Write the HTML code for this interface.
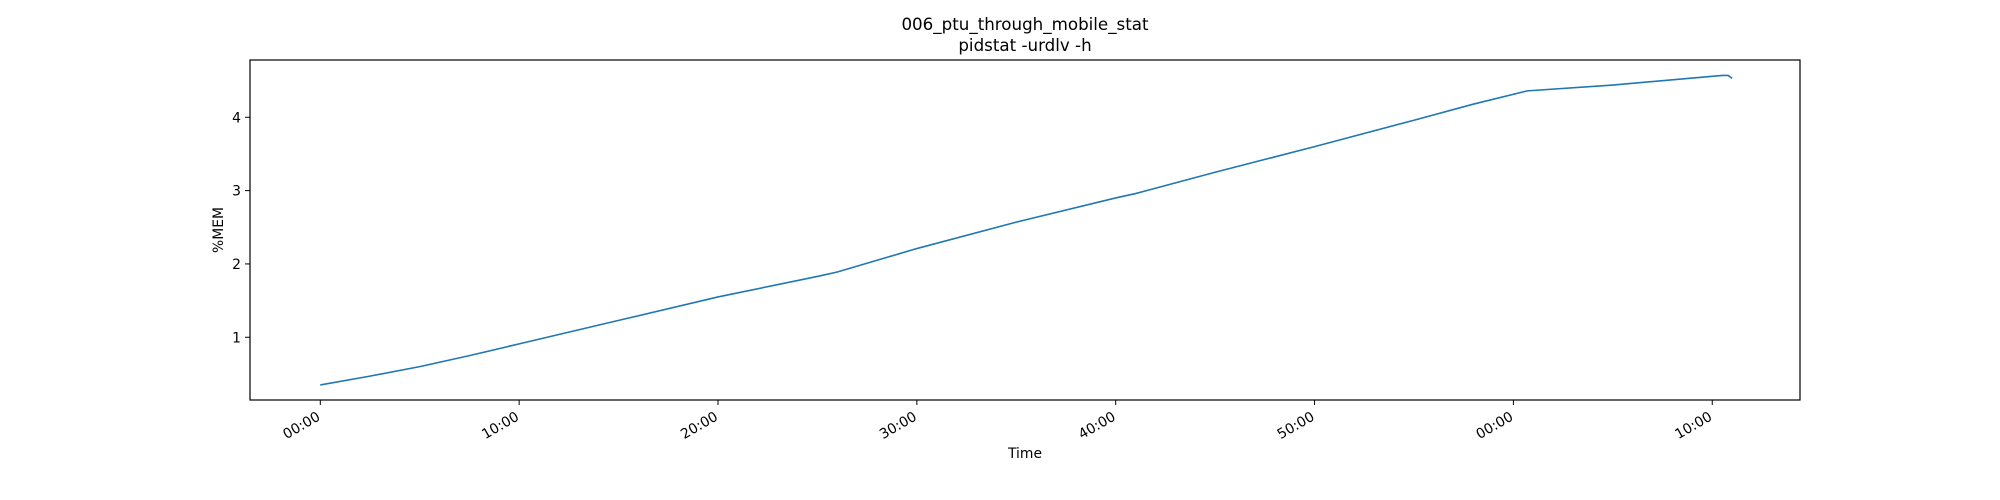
<!DOCTYPE html>
<html><head><meta charset="utf-8"><style>
body{margin:0;background:#fff}
svg{display:block;font-family:"DejaVu Sans","Liberation Sans",sans-serif}
</style></head><body>
<svg id="chart" width="2000" height="500">
<text x="1025" y="30" font-size="16.7" text-anchor="middle">006_ptu_through_mobile_stat</text>
<text x="1025" y="51" font-size="16.7" text-anchor="middle">pidstat -urdlv -h</text>
<g id="plot"></g>
<rect x="250" y="60" width="1550" height="340" fill="none" stroke="#000" stroke-width="1.2"/>
<text x="1025" y="458" font-size="13.9" text-anchor="middle">Time</text>
<text transform="translate(223,230) rotate(-90)" font-size="13.9" text-anchor="middle">%MEM</text>
</svg>
<script>
const xMinutes=[0,2.5,5,7.5,10,15,20,25,26,30,35,40,41,45,50,55,58,60.7,65,70.5,70.8,71];
const memValues=[0.35,0.47,0.60,0.75,0.91,1.23,1.55,1.83,1.89,2.21,2.57,2.90,2.96,3.25,3.60,3.96,4.18,4.36,4.44,4.57,4.57,4.53];
const yTicks=[1,2,3,4];
const xTickMinutes=[0,10,20,30,40,50,60,70];
const xTickLabels=["00:00","10:00","20:00","30:00","40:00","50:00","00:00","10:00"];
const NS="http://www.w3.org/2000/svg";
const xs=m=>320.3+m*19.885;
const ys=v=>410.6-v*73.33;
const g=document.getElementById('plot');
function mk(t,a){const e=document.createElementNS(NS,t);for(const k in a)e.setAttribute(k,a[k]);g.appendChild(e);return e;}
yTicks.forEach(v=>{
 const l=mk('line',{x1:245,x2:250,y1:ys(v),y2:ys(v),stroke:'#000'});
 
 
 const t=mk('text',{x:241,y:ys(v)+5,'font-size':13.9,'text-anchor':'end'});
 t.textContent=v;
 
 
});
xTickMinutes.forEach((m,i)=>{
 const x=xs(m);
 const l=mk('line',{x1:x,x2:x,y1:400,y2:405,stroke:'#000'});
 
 
 const t=mk('text',{transform:`translate(${x-4},${411}) rotate(-30)`,'font-size':13.9,'text-anchor':'end','dominant-baseline':'hanging'});
 t.textContent=xTickLabels[i];
 
 
});
const p=mk('polyline',{points:xMinutes.map((m,i)=>xs(m)+','+ys(memValues[i])).join(' '),fill:'none',stroke:'#1f77b4','stroke-width':1.6});


</script>
</body></html>
